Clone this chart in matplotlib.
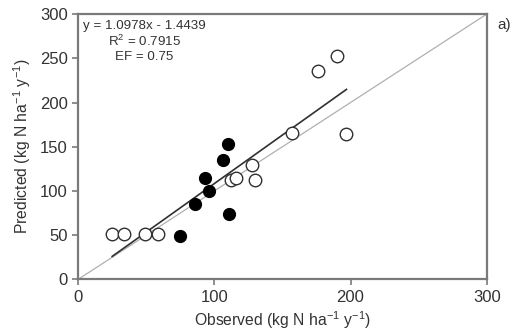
import matplotlib.pyplot as plt
import numpy as np

plt.rcParams['font.family'] = ['Liberation Sans', 'DejaVu Sans']
plt.rcParams['mathtext.fontset'] = 'custom'
plt.rcParams['mathtext.rm'] = 'Liberation Sans'

# filled points
obs_filled = [110, 106, 93, 96, 86, 111, 75]
pred_filled = [153, 135, 115, 100, 85, 74, 49]

# open points
obs_open = [25, 34, 49, 59, 112, 116, 128, 130, 157, 176, 190, 197]
pred_open = [51, 51, 51, 51, 112, 115, 129, 112, 165, 236, 253, 164]

slope = 1.0978
intercept = -1.4439

fig = plt.figure(figsize=(5.14, 3.35), dpi=100)
ax = fig.add_axes([0.152, 0.166, 0.795, 0.792])

# 1:1 line
ax.plot([0, 300], [0, 300], color='#b0b0b0', lw=0.9, zorder=1)

# regression line over the data range
all_obs = np.array(obs_filled + obs_open)
xr = np.array([all_obs.min(), all_obs.max()])
ax.plot(xr, slope * xr + intercept, color='#303030', lw=1.2, zorder=2)

ax.plot(obs_open, pred_open, 'o', mfc='white', mec='#303030', mew=1.0, ms=9, zorder=3)
ax.plot(obs_filled, pred_filled, 'o', mfc='black', mec='black', ms=8.5, zorder=4)

ax.set_xlim(0, 300)
ax.set_ylim(0, 300)
ax.set_xticks([0, 100, 200, 300])
ax.set_yticks([0, 50, 100, 150, 200, 250, 300])

for s in ax.spines.values():
    s.set_color('#7a7a7a')
    s.set_linewidth(1.6)
ax.tick_params(direction='out', length=4, width=1.2, color='#7a7a7a',
               labelsize=12, labelcolor='#333333')

ax.set_xlabel(r'Observed (kg N ha$^{-1}$ y$^{-1}$)', fontsize=11.3, color='#333333', labelpad=3)
ax.set_ylabel(r'Predicted (kg N ha$^{-1}$ y$^{-1}$)', fontsize=11.3, color='#333333', labelpad=5)

ax.text(48.5, 287, 'y = 1.0978x - 1.4439', ha='center', va='center', fontsize=9.6, color='#333333')
ax.text(48.5, 269, r'R$^{2}$ = 0.7915', ha='center', va='center', fontsize=9.6, color='#333333')
ax.text(48.5, 251, 'EF = 0.75', ha='center', va='center', fontsize=9.6, color='#333333')

ax.text(1.025, 0.96, 'a)', transform=ax.transAxes, fontsize=11, color='#333333',
        ha='left', va='center')

fig.savefig('out.png', dpi=100)
